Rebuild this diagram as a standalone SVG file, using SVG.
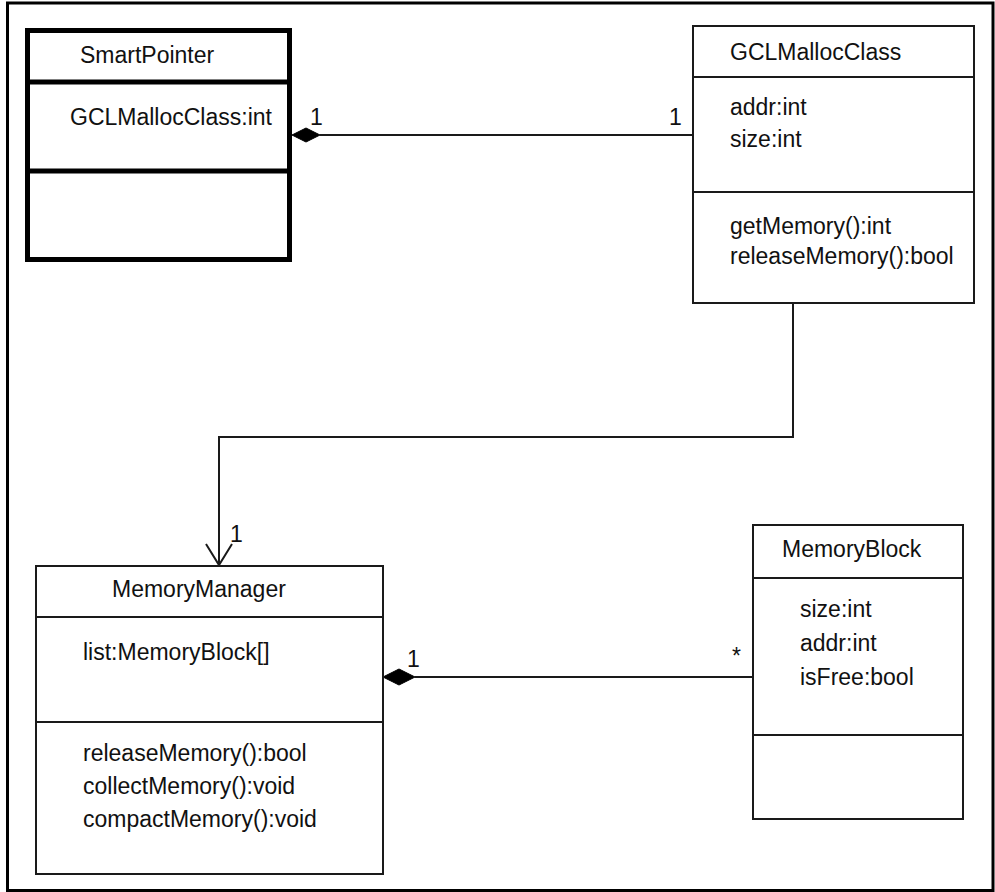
<svg xmlns="http://www.w3.org/2000/svg" width="995" height="892" viewBox="0 0 995 892">
<style>
text{font-family:"Liberation Sans",Arial,sans-serif;font-size:23px;fill:#111}
.box{fill:#fff;stroke:#1a1a1a;stroke-width:2}
.thick{fill:#fff;stroke:#000;stroke-width:5}
.ln{stroke:#1a1a1a;stroke-width:2;fill:none}
.tln{stroke:#000;stroke-width:5;fill:none}
.dia{fill:#000;stroke:#000;stroke-width:1}
</style>
<rect x="0" y="0" width="995" height="892" fill="#fff"/>
<rect x="7.5" y="3" width="985.5" height="887.5" fill="none" stroke="#000" stroke-width="3"/>

<g id="connectors">
  <line class="ln" x1="320" y1="135" x2="693" y2="135"/>
  <polygon class="dia" points="292,135 306,128 320,135 306,142"/>
  <polyline class="ln" points="793,303 793,437 219,437 219,565"/>
  <polyline class="ln" points="206,544 219,565 232,544"/>
  <line class="ln" x1="415" y1="677" x2="753" y2="677"/>
  <polygon class="dia" points="383,677 399,669 415,677 399,685"/>
  <text x="310" y="125">1</text>
  <text x="669" y="125">1</text>
  <text x="230" y="542">1</text>
  <text x="407" y="667">1</text>
  <text x="732" y="664">*</text>
</g>

<g id="SmartPointer">
  <rect class="thick" x="27.5" y="30.5" width="262" height="229"/>
  <line class="tln" x1="27.5" y1="82" x2="289.5" y2="82"/>
  <line class="tln" x1="27.5" y1="171" x2="289.5" y2="171"/>
  <text x="80" y="63">SmartPointer</text>
  <text x="70" y="125">GCLMallocClass:int</text>
</g>

<g id="GCLMallocClass">
  <rect class="box" x="693" y="26" width="281" height="277"/>
  <line class="ln" x1="693" y1="77" x2="974" y2="77"/>
  <line class="ln" x1="693" y1="192" x2="974" y2="192"/>
  <text x="730" y="60">GCLMallocClass</text>
  <text x="730" y="115">addr:int</text>
  <text x="730" y="147">size:int</text>
  <text x="730" y="234">getMemory():int</text>
  <text x="730" y="264">releaseMemory():bool</text>
</g>

<g id="MemoryManager">
  <rect class="box" x="36" y="566" width="347" height="308"/>
  <line class="ln" x1="36" y1="617" x2="383" y2="617"/>
  <line class="ln" x1="36" y1="722" x2="383" y2="722"/>
  <text x="112" y="597">MemoryManager</text>
  <text x="83" y="660">list:MemoryBlock[]</text>
  <text x="83" y="761">releaseMemory():bool</text>
  <text x="83" y="794">collectMemory():void</text>
  <text x="83" y="827">compactMemory():void</text>
</g>

<g id="MemoryBlock">
  <rect class="box" x="753" y="525" width="210" height="294"/>
  <line class="ln" x1="753" y1="578" x2="963" y2="578"/>
  <line class="ln" x1="753" y1="735" x2="963" y2="735"/>
  <text x="782" y="557">MemoryBlock</text>
  <text x="800" y="617">size:int</text>
  <text x="800" y="651">addr:int</text>
  <text x="800" y="685">isFree:bool</text>
</g>
</svg>
